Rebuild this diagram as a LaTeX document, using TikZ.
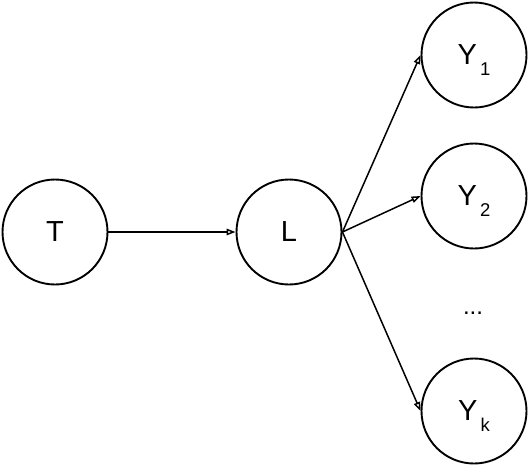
\documentclass[tikz,border=0pt]{standalone}
\usepackage{fontspec}
\setmainfont{Liberation Sans}
\usetikzlibrary{arrows.meta}
\newcommand{\mysub}[1]{\kern3pt\smash{\raisebox{-11pt}{\fontsize{18.5}{19}\selectfont #1}}}
\begin{document}
\begin{tikzpicture}[x=1pt,y=-1pt,
  var/.style={circle,draw,line width=1.9pt,minimum size=105pt,inner sep=0pt,font=\fontsize{29}{30}\selectfont},
  edge/.style={line width=1.5pt,-{Triangle[open,length=9pt,width=6.5pt]}}]
\useasboundingbox (0,0) rectangle (530,466);
\node[var] (T) at (55,232) {T};
\node[var] (L) at (289,232) {L};
\node[var] (Y1) at (474,55) {Y\mysub{1}};
\node[var] (Y2) at (474,196) {Y\mysub{2}};
\node[var] (Yk) at (474,411) {Y\mysub{k}};
\node[font=\fontsize{24}{26}\selectfont] (dots) at (473,313) {...};
\draw[edge] (T.east) -- (L.west);
\draw[edge] (L.east) -- (Y1.west);
\draw[edge] (L.east) -- (Y2.west);
\draw[edge] (L.east) -- (Yk.west);
\end{tikzpicture}
\end{document}
